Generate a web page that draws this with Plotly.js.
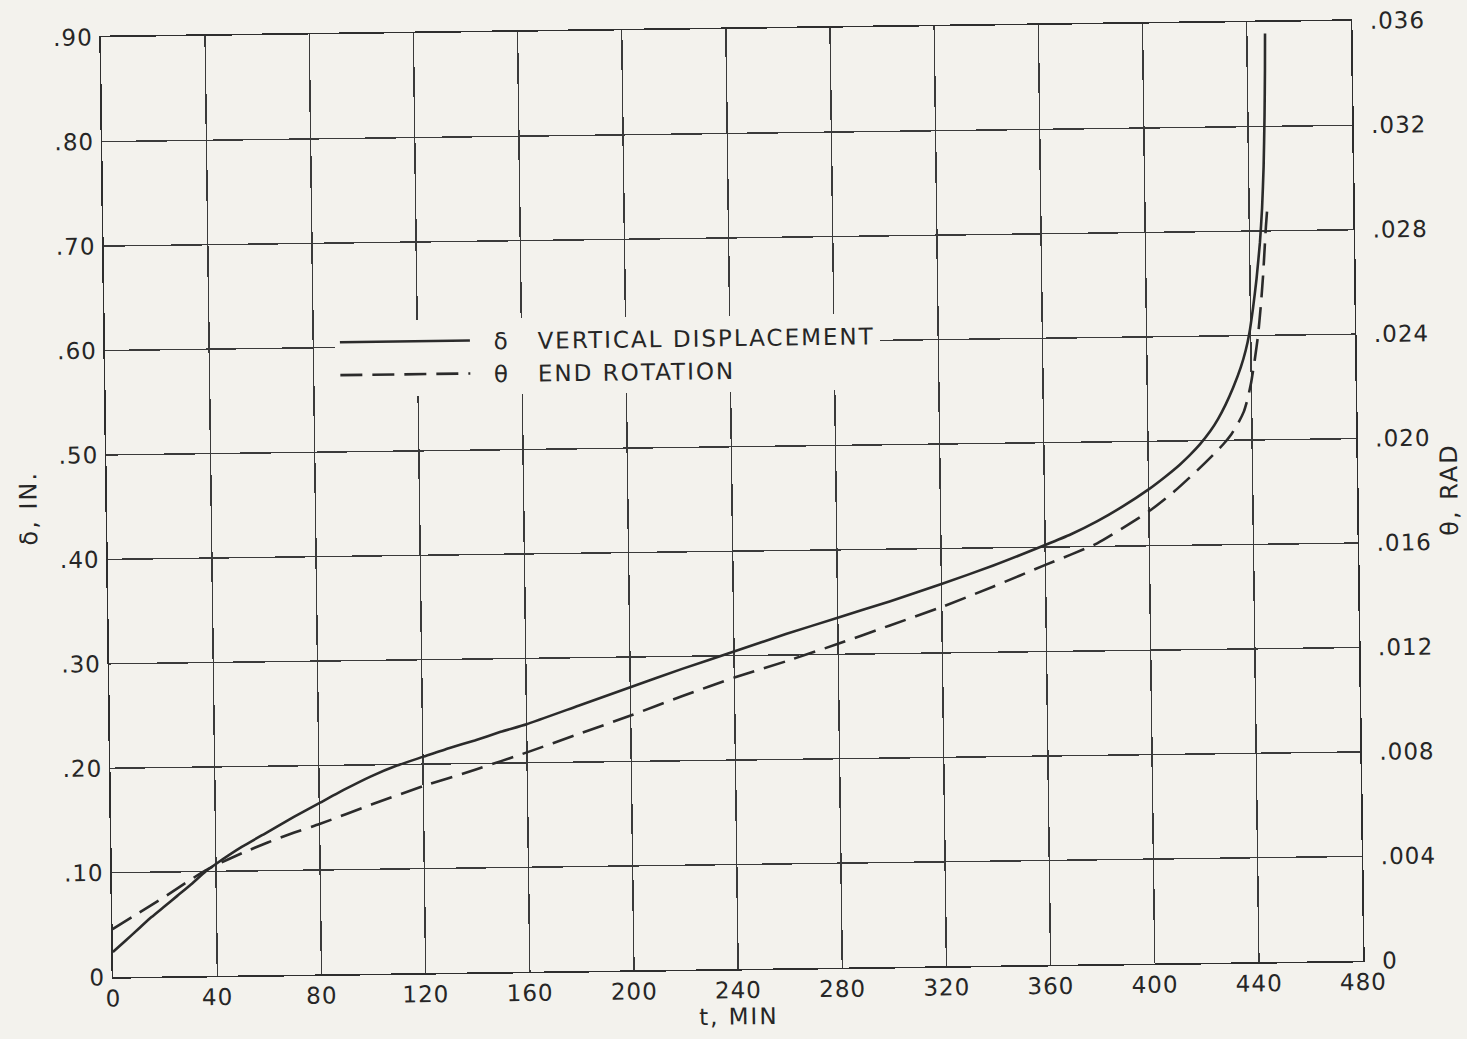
<!DOCTYPE html>
<html>
<head>
<meta charset="utf-8">
<script src="https://cdn.plot.ly/plotly-3.0.1.min.js"></script>
<style>
  html, body { margin: 0; padding: 0; background: #f3f2ed; overflow: hidden; }
  #chart { width: 1467px; height: 1039px; transform: rotate(-0.75deg); transform-origin: 732px 499px; }
  .legendtext { letter-spacing: 2px; }
  #chart .xtick text, #chart .ytick text, #chart .y2tick text { letter-spacing: 1px; }
  #chart .xtitle, #chart .ytitle, #chart .y2title { letter-spacing: 2px; }
</style>
</head>
<body>
<div id="chart"></div>
<script>
// Time axis (minutes)
const tTicks = [0, 40, 80, 120, 160, 200, 240, 280, 320, 360, 400, 440, 480];
const tLabels = ["0", "40", "80", "120", "160", "200", "240", "280", "320", "360", "400", "440", "480"];

// Left axis: vertical displacement delta, in.
const dispTicks = [0, 0.1, 0.2, 0.3, 0.4, 0.5, 0.6, 0.7, 0.8, 0.9];
const dispLabels = ["0", ".10", ".20", ".30", ".40", ".50", ".60", ".70", ".80", ".90"];

// Right axis: end rotation theta, rad
const rotTicks = [0, 0.004, 0.008, 0.012, 0.016, 0.020, 0.024, 0.028, 0.032, 0.036];
const rotLabels = ["0", ".004", ".008", ".012", ".016", ".020", ".024", ".028", ".032", ".036"];

// Vertical displacement (solid curve), in.
const tDisp = [0, 5, 10, 15, 20, 25, 30, 36, 40, 50, 60, 70, 80, 90, 100, 110, 120, 130, 140, 150, 160, 180, 200, 220, 240, 260, 280, 300, 320, 340, 360, 370, 380, 390, 400, 406, 412, 416, 420, 424, 427, 430, 433, 436, 438, 439.5, 441, 442.5, 444, 445, 445.8, 446.4, 446.8, 447];
const disp  = [0.024, 0.035, 0.046, 0.057, 0.067, 0.077, 0.087, 0.100, 0.107, 0.123, 0.137, 0.151, 0.164, 0.177, 0.189, 0.199, 0.207, 0.215, 0.222, 0.230, 0.237, 0.254, 0.271, 0.288, 0.304, 0.320, 0.335, 0.350, 0.366, 0.383, 0.402, 0.412, 0.424, 0.438, 0.454, 0.465, 0.477, 0.4862, 0.4966, 0.509, 0.5204, 0.5342, 0.5504, 0.5696, 0.586, 0.6025, 0.626, 0.654, 0.689, 0.722, 0.762, 0.810, 0.855, 0.889];

// End rotation (dashed curve), rad
const tRot = [0, 10, 20, 30, 36, 40, 50, 60, 70, 80, 100, 120, 140, 160, 180, 200, 220, 240, 260, 280, 300, 320, 340, 360, 380, 400, 410, 419, 425, 429, 432, 435, 437, 438.5, 440, 441.5, 442.8, 444, 445, 445.8, 446.4, 447];
const rot  = [0.00184, 0.00244, 0.00304, 0.00368, 0.00404, 0.00424, 0.00468, 0.00508, 0.00544, 0.00576, 0.00648, 0.00716, 0.00776, 0.00840, 0.00908, 0.00976, 0.01048, 0.01116, 0.01176, 0.01240, 0.01308, 0.01376, 0.01452, 0.01532, 0.01612, 0.01732, 0.01808, 0.01888, 0.01945, 0.01986, 0.02022, 0.02070, 0.02110, 0.02158, 0.02224, 0.02312, 0.02400, 0.02512, 0.02624, 0.02736, 0.02820, 0.02888];

const ink = '#2b2b2b';
const paper = '#f3f2ed';
const fontFam = 'DejaVu Sans, Liberation Sans, sans-serif';
const nb = '\u00a0';

const traces = [
  {
    x: tDisp, y: disp, type: 'scatter', mode: 'lines',
    name: nb + nb + 'δ' + nb + nb + nb + 'VERTICAL DISPLACEMENT',
    line: { color: ink, width: 2.6, shape: 'spline', smoothing: 0.5 },
    xaxis: 'x', yaxis: 'y'
  },
  {
    x: tRot, y: rot, type: 'scatter', mode: 'lines',
    name: nb + nb + 'θ' + nb + nb + nb + 'END ROTATION',
    line: { color: ink, width: 2.6, dash: '22px,10px', shape: 'spline', smoothing: 0.5 },
    xaxis: 'x', yaxis: 'y2'
  }
];

const layout = {
  width: 1467, height: 1039,
  paper_bgcolor: paper, plot_bgcolor: paper,
  margin: { l: 107, r: 110, t: 29, b: 70 },
  font: { family: fontFam, color: '#262626', size: 23 },
  showlegend: true,
  legend: {
    x: 0.184, y: 0.695, xanchor: 'left', yanchor: 'top',
    bgcolor: paper, borderwidth: 0, itemwidth: 130,
    font: { family: fontFam, size: 23, color: '#262626' },
    tracegroupgap: 0
  },
  xaxis: {
    range: [0, 480], tickvals: tTicks, ticktext: tLabels,
    showgrid: true, gridcolor: '#3a3a3a', gridwidth: 1.4,
    showline: true, linecolor: '#2e2e2e', linewidth: 1.6, mirror: true,
    zeroline: false, ticks: '', ticklabelstandoff: 0,
    tickfont: { size: 23 },
    title: { text: 't, MIN', font: { size: 23 }, standoff: 6 }
  },
  yaxis: {
    range: [0, 0.9], tickvals: dispTicks, ticktext: dispLabels,
    showgrid: true, gridcolor: '#3a3a3a', gridwidth: 1.4,
    showline: true, linecolor: '#2e2e2e', linewidth: 1.6, mirror: true,
    zeroline: false, ticks: '', ticklabelstandoff: 2,
    tickfont: { size: 23 },
    title: { text: 'δ, IN.', font: { size: 24 }, standoff: 18 }
  },
  yaxis2: {
    range: [0, 0.036], tickvals: rotTicks, ticktext: rotLabels,
    overlaying: 'y', side: 'right', showgrid: false,
    showline: false, zeroline: false, ticks: '', ticklabelstandoff: 18,
    tickfont: { size: 23 },
    title: { text: 'θ, RAD', font: { size: 24 }, standoff: 14 }
  }
};

Plotly.newPlot('chart', traces, layout, { displayModeBar: false, staticPlot: true });
</script>
</body>
</html>
